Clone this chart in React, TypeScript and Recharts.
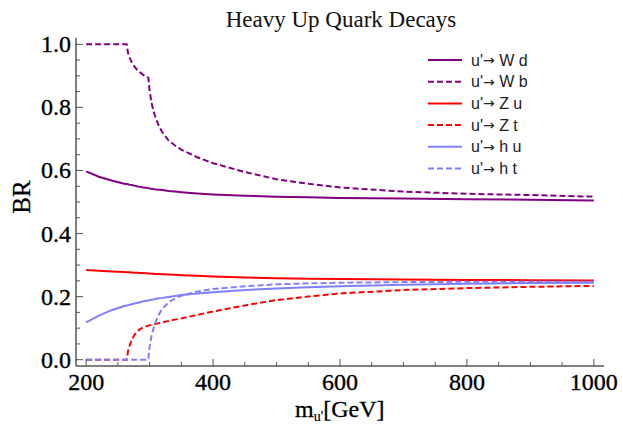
import { LineChart, Line, XAxis, YAxis, Legend } from 'recharts';

// masses in GeV
const masses = [
  200, 220, 240, 260, 264, 266, 268, 272, 276, 280, 285, 290, 295, 298, 300, 303, 306, 310,
  315, 320, 330, 340, 350, 375, 400, 450, 500, 550, 600, 700, 800, 900, 1000,
];

// branching ratios
const brWd = [
  0.597, 0.58, 0.568, 0.558, 0.557, 0.556, 0.555, 0.554, 0.552, 0.55, 0.548, 0.546, 0.545, 0.544,
  0.543, 0.542, 0.541, 0.54, 0.539, 0.538, 0.535, 0.533, 0.531, 0.527, 0.524, 0.52, 0.517, 0.515,
  0.513, 0.511, 0.509, 0.507, 0.505,
];
const brWb = [
  1.0, 1.0, 1.0, 1.0, 1.0, 0.972, 0.96, 0.942, 0.93, 0.92, 0.911, 0.903, 0.897, 0.894, 0.852,
  0.815, 0.789, 0.764, 0.739, 0.721, 0.695, 0.679, 0.666, 0.642, 0.623, 0.595, 0.572, 0.558, 0.546,
  0.533, 0.526, 0.522, 0.517,
];
const brZu = [
  0.284, 0.282, 0.28, 0.278, 0.2775, 0.2773, 0.277, 0.2765, 0.276, 0.2755, 0.275, 0.2745, 0.274,
  0.2735, 0.273, 0.2727, 0.2724, 0.272, 0.2715, 0.271, 0.27, 0.269, 0.268, 0.266, 0.264, 0.261,
  0.258, 0.257, 0.256, 0.254, 0.253, 0.252, 0.251,
];
const brZt = [
  0, 0, 0, 0, 0, 0.028, 0.042, 0.064, 0.078, 0.088, 0.097, 0.102, 0.106, 0.108, 0.109, 0.11, 0.112,
  0.114, 0.116, 0.118, 0.123, 0.127, 0.131, 0.142, 0.153, 0.172, 0.189, 0.2, 0.21, 0.221, 0.227,
  0.231, 0.234,
];
const brHu = [
  0.118, 0.14, 0.157, 0.17, 0.172, 0.173, 0.174, 0.176, 0.178, 0.18, 0.182, 0.185, 0.187, 0.188,
  0.189, 0.19, 0.191, 0.193, 0.195, 0.196, 0.199, 0.202, 0.205, 0.21, 0.214, 0.221, 0.226, 0.23,
  0.233, 0.238, 0.241, 0.243, 0.244,
];
const brHt = [
  0, 0, 0, 0, 0, 0, 0, 0, 0, 0, 0, 0, 0, 0, 0.042, 0.075, 0.099, 0.122, 0.145, 0.161, 0.182, 0.194,
  0.203, 0.216, 0.224, 0.233, 0.239, 0.242, 0.244, 0.246, 0.247, 0.247, 0.247,
];

const xTicks = [200, 250, 300, 350, 400, 450, 500, 550, 600, 650, 700, 750, 800, 850, 900, 950, 1000];
const yTicks = [
  0, 0.05, 0.1, 0.15, 0.2, 0.25, 0.3, 0.35, 0.4, 0.45, 0.5, 0.55, 0.6, 0.65, 0.7, 0.75, 0.8, 0.85,
  0.9, 0.95, 1.0,
];

const series = [
  { key: 'wd', head: "u'", tail: ' W d', color: '#800080', dash: undefined, values: brWd },
  { key: 'wb', head: "u'", tail: ' W b', color: '#800080', dash: '6 3', values: brWb },
  { key: 'zu', head: "u'", tail: ' Z u', color: '#ff0000', dash: undefined, values: brZu },
  { key: 'zt', head: "u'", tail: ' Z t', color: '#ff0000', dash: '6 3', values: brZt },
  { key: 'hu', head: "u'", tail: ' h u', color: '#8080ff', dash: undefined, values: brHu },
  { key: 'ht', head: "u'", tail: ' h t', color: '#8080ff', dash: '6 3', values: brHt },
];

const data = masses.map((m, i) => {
  const row: Record<string, number> = { m };
  series.forEach((s) => (row[s.key] = s.values[i]));
  return row;
});

const SERIF = '"Liberation Serif", "Times New Roman", serif';
const SANS = '"Liberation Sans", Arial, sans-serif';
const TICK = '#555';

const isMajorX = (v: number) => v % 200 === 0;
const isMajorY = (v: number) => Math.abs(v * 5 - Math.round(v * 5)) < 1e-6;

const BottomTick = (p: any) => {
  const v = p.payload.value;
  const major = isMajorX(v);
  return (
    <g>
      <line x1={p.x} x2={p.x} y1={p.y} y2={p.y - (major ? 7 : 4)} stroke={TICK} />
      {major && (
        <text
          x={p.x}
          y={p.y + 24}
          textAnchor="middle"
          fontSize={24}
          fontFamily={SERIF}
          fill="#000"
          stroke="#000"
          strokeWidth={0.35}
        >
          {v}
        </text>
      )}
    </g>
  );
};

const TopTick = (p: any) => {
  const major = isMajorX(p.payload.value);
  return <line x1={p.x} x2={p.x} y1={p.y} y2={p.y + (major ? 7 : 4)} stroke={TICK} />;
};

const LeftTick = (p: any) => {
  const v = p.payload.value;
  const major = isMajorY(v);
  return (
    <g>
      <line x1={p.x} x2={p.x + (major ? 7 : 4)} y1={p.y} y2={p.y} stroke={TICK} />
      {major && (
        <text
          x={p.x - 5}
          y={p.y}
          textAnchor="end"
          dominantBaseline="central"
          fontSize={24}
          fontFamily={SERIF}
          fill="#000"
          stroke="#000"
          strokeWidth={0.35}
        >
          {v.toFixed(1)}
        </text>
      )}
    </g>
  );
};

const RightTick = (p: any) => {
  const major = isMajorY(p.payload.value);
  return <line x1={p.x} x2={p.x - (major ? 7 : 4)} y1={p.y} y2={p.y} stroke={TICK} />;
};

const renderLegend = () => (
  <svg width={150} height={135}>
    {series.map((s, i) => {
      const cy = 12 + i * 21.7;
      return (
        <g key={s.key}>
          <line x1={8} x2={42} y1={cy} y2={cy} stroke={s.color} strokeWidth={2} strokeDasharray={s.dash} />
          <text x={51} y={cy} dominantBaseline="central" fontSize={16} fontFamily={SANS} fill="#222">
            {s.head}
            <tspan fontFamily='"DejaVu Sans", sans-serif' fontSize={14}>
              {'\u2192'}
            </tspan>
            {s.tail}
          </text>
        </g>
      );
    })}
  </svg>
);

export default function App() {
  return (
    <div style={{ position: 'absolute', left: 0, top: 0, width: 623, height: 424, background: '#fff' }}>
      <LineChart width={623} height={424} data={data} margin={{ top: 38, right: 19, bottom: 0, left: 0 }}>
        <XAxis
          xAxisId="b"
          dataKey="m"
          type="number"
          domain={[184, 1016]}
          ticks={xTicks}
          interval={0}
          height={58}
          tickSize={0}
          tickMargin={0}
          tickLine={false}
          tick={BottomTick}
          axisLine={{ stroke: '#000' }}
          allowDataOverflow
        />
        <XAxis
          xAxisId="t"
          orientation="top"
          dataKey="m"
          type="number"
          domain={[184, 1016]}
          ticks={xTicks}
          interval={0}
          height={0}
          tickSize={0}
          tickMargin={0}
          tickLine={false}
          tick={TopTick}
          axisLine={{ stroke: '#000' }}
          allowDataOverflow
        />
        <YAxis
          yAxisId="l"
          type="number"
          domain={[-0.02, 1.02]}
          ticks={yTicks}
          interval={0}
          width={76}
          tickSize={0}
          tickMargin={0}
          tickLine={false}
          tick={LeftTick}
          axisLine={{ stroke: '#000' }}
          allowDataOverflow
        />
        <YAxis
          yAxisId="r"
          orientation="right"
          type="number"
          domain={[-0.02, 1.02]}
          ticks={yTicks}
          interval={0}
          width={0}
          tickSize={0}
          tickMargin={0}
          tickLine={false}
          tick={RightTick}
          axisLine={{ stroke: '#000' }}
          allowDataOverflow
        />
        <Legend
          layout="horizontal"
          verticalAlign="middle"
          align="center"
          content={renderLegend}
          wrapperStyle={{ left: 420, top: 48, width: 150, height: 135 }}
        />
        {series.map((s) => (
          <Line
            key={s.key}
            xAxisId="b"
            yAxisId="l"
            type="linear"
            dataKey={s.key}
            name={s.head + '\u2192' + s.tail}
            stroke={s.color}
            strokeWidth={2}
            strokeDasharray={s.dash}
            dot={false}
            activeDot={false}
            isAnimationActive={false}
          />
        ))}
      </LineChart>
      <svg
        width={623}
        height={424}
        style={{ position: 'absolute', left: 0, top: 0, pointerEvents: 'none' }}
      >
        <text x={341} y={26.5} textAnchor="middle" fontSize={23} fontFamily={SERIF} fill="#111">
          Heavy Up Quark Decays
        </text>
        <text
          transform="translate(21,197) rotate(-90)"
          textAnchor="middle"
          dominantBaseline="central"
          fontSize={25}
          fontFamily={SERIF}
          fill="#000"
          stroke="#000"
          strokeWidth={0.3}
        >
          BR
        </text>
        <text x={295} y={417} fontSize={24} fontFamily={SERIF} fill="#000" stroke="#000" strokeWidth={0.3}>
          m
          <tspan fontSize={14} dy={4} strokeWidth={0.2}>
            u'
          </tspan>
          <tspan fontSize={24} dy={-4}>
            [GeV]
          </tspan>
        </text>
      </svg>
    </div>
  );
}
